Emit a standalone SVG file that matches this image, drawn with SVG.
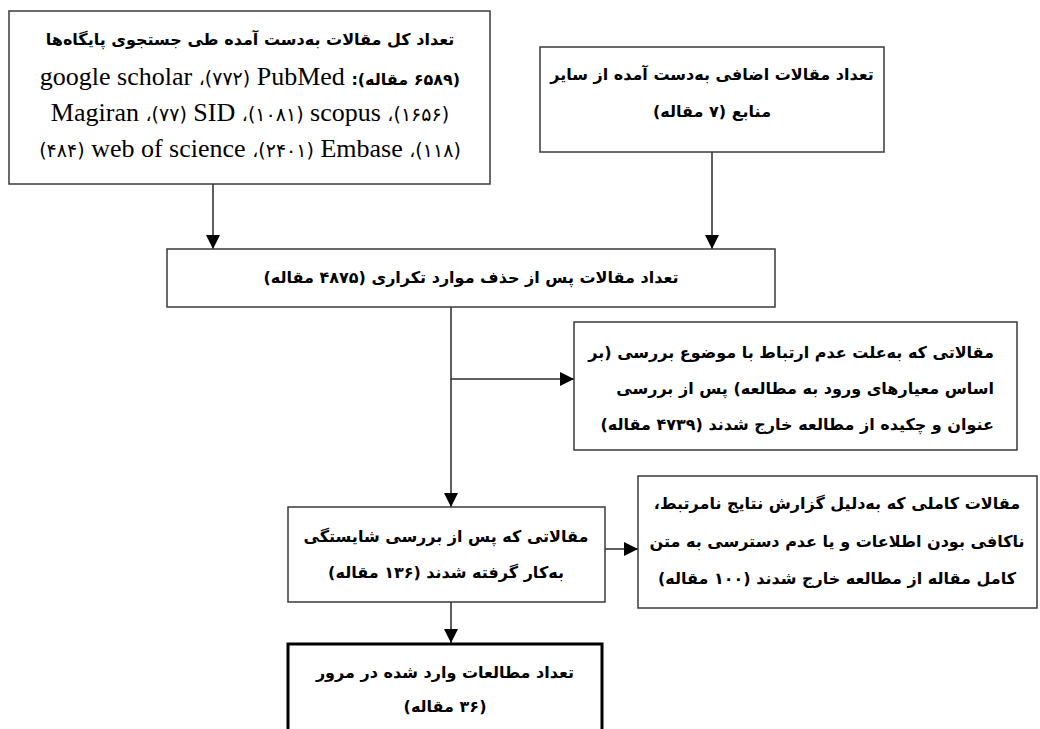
<svg xmlns="http://www.w3.org/2000/svg" width="1040" height="729" viewBox="0 0 1040 729">
<style>
.box{fill:#fff;stroke:#3a3a3a;stroke-width:1.5}
.box7{fill:#fff;stroke:#000;stroke-width:3}
.fa{font-family:"DejaVu Sans",sans-serif;font-size:16px;font-weight:bold;fill:#000}
.mx{font-family:"Liberation Serif","DejaVu Sans",serif;font-size:26px;fill:#000}
.mx tspan.p{font-family:"DejaVu Sans",sans-serif;font-size:16px;font-weight:bold}
.mx tspan.n{font-family:"DejaVu Sans",sans-serif;font-size:19px}
.ln{stroke:#2a2a2a;stroke-width:1.5;fill:none}
</style>
<defs>
<marker id="ah" markerUnits="userSpaceOnUse" markerWidth="14" markerHeight="14" refX="14" refY="7" orient="auto">
<path d="M0,0 L14,7 L0,14 z" fill="#000"/>
</marker>
</defs>
<rect width="1040" height="729" fill="#fff"/>
<g id="connectors">
<line class="ln" x1="213" y1="184" x2="213" y2="249" marker-end="url(#ah)"/>
<line class="ln" x1="712" y1="152" x2="712" y2="249" marker-end="url(#ah)"/>
<line class="ln" x1="451" y1="307" x2="451" y2="507" marker-end="url(#ah)"/>
<line class="ln" x1="451" y1="379" x2="574" y2="379" marker-end="url(#ah)"/>
<line class="ln" x1="605" y1="549" x2="638" y2="549" marker-end="url(#ah)"/>
<line class="ln" x1="451" y1="602" x2="451" y2="643" marker-end="url(#ah)"/>
</g>
<g id="n1">
<rect class="box" x="9" y="11" width="481" height="173"/>
<text class="fa" x="250" y="45" direction="rtl" text-anchor="middle">تعداد کل مقالات به‌دست آمده طی جستجوی پایگاه‌ها</text>
<text class="mx" x="250" y="85" direction="rtl" text-anchor="middle"><tspan class="p">&#x200F;(۶۵۸۹ مقاله):</tspan> PubMed <tspan class="n">&#x200F;(۷۷۲)،</tspan> google scholar</text>
<text class="mx" x="250" y="121" direction="rtl" text-anchor="middle"><tspan class="n">&#x200F;(۱۶۵۶)،</tspan> scopus <tspan class="n">&#x200F;(۱۰۸۱)،</tspan> SID <tspan class="n">&#x200F;(۷۷)،</tspan> Magiran</text>
<text class="mx" x="250" y="157" direction="rtl" text-anchor="middle"><tspan class="n">&#x200F;(۱۱۸)،</tspan> Embase <tspan class="n">&#x200F;(۲۴۰۱)،</tspan> web of science <tspan class="n">&#x200F;(۴۸۴)</tspan></text>
</g>
<g id="n2">
<rect class="box" x="540" y="47" width="344" height="105"/>
<text class="fa" x="712" y="80" direction="rtl" text-anchor="middle">تعداد مقالات اضافی به‌دست آمده از سایر</text>
<text class="fa" x="712" y="117" direction="rtl" text-anchor="middle">منابع (۷ مقاله)</text>
</g>
<g id="n3">
<rect class="box" x="167" y="249" width="608" height="58"/>
<text class="fa" x="471" y="283" direction="rtl" text-anchor="middle">تعداد مقالات پس از حذف موارد تکراری (۴۸۷۵ مقاله)</text>
</g>
<g id="n4">
<rect class="box" x="574" y="322" width="443" height="128"/>
<text class="fa" x="994" y="358" direction="rtl" text-anchor="start">مقالاتی که به‌علت عدم ارتباط با موضوع بررسی (بر</text>
<text class="fa" x="994" y="394" direction="rtl" text-anchor="start">اساس معیارهای ورود به مطالعه) پس از بررسی</text>
<text class="fa" x="994" y="430" direction="rtl" text-anchor="start">عنوان و چکیده از مطالعه خارج شدند (۴۷۳۹ مقاله)</text>
</g>
<g id="n5">
<rect class="box" x="288" y="507" width="317" height="95"/>
<text class="fa" x="446" y="542" direction="rtl" text-anchor="middle">مقالاتی که پس از بررسی شایستگی</text>
<text class="fa" x="446" y="578" direction="rtl" text-anchor="middle">به‌کار گرفته شدند (۱۳۶ مقاله)</text>
</g>
<g id="n6">
<rect class="box" x="638" y="476" width="399" height="132"/>
<text class="fa" x="837" y="509" direction="rtl" text-anchor="middle">مقالات کاملی که به‌دلیل گزارش نتایج نامرتبط،</text>
<text class="fa" x="837" y="547" direction="rtl" text-anchor="middle">ناکافی بودن اطلاعات و یا عدم دسترسی به متن</text>
<text class="fa" x="837" y="584" direction="rtl" text-anchor="middle">کامل مقاله از مطالعه خارج شدند (۱۰۰ مقاله)</text>
</g>
<g id="n7">
<rect class="box7" x="288" y="644" width="314" height="100"/>
<text class="fa" x="445" y="678" direction="rtl" text-anchor="middle">تعداد مطالعات وارد شده در مرور</text>
<text class="fa" x="445" y="712" direction="rtl" text-anchor="middle">(۳۶ مقاله)</text>
</g>
</svg>
